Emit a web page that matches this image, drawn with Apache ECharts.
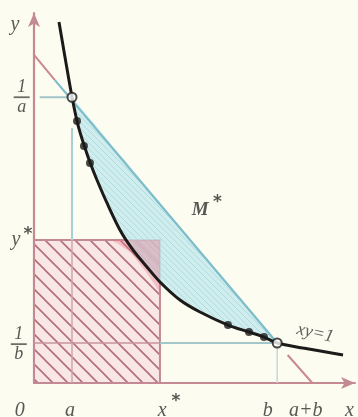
<!DOCTYPE html>
<html><head><meta charset="utf-8">
<script src="https://cdn.jsdelivr.net/npm/echarts@6/dist/echarts.min.js"></script>
<style>html,body{margin:0;padding:0;background:#fcfcf1}#c{width:358px;height:417px}</style>
</head><body><div id="c"></div>
<script>
// ---- values (data units) ----
const a = 0.40, invA = 2.50;        // point (a, 1/a)
const b = 2.56, invB = 0.35;        // point (b, 1/b)
const xStar = 1.326, yStar = 1.251; // rectangle corner (x*, y*)
const mLineStart = [0, 2.87];       // M* meets the y axis
const mLineEnd = [2.93, 0];         // M* meets the x axis at a+b
const mBlueFrom = [0.22, 2.65];     // red -> blue change on M*
const mRedFrom = [2.67, 0.245];     // blue -> red change on M*
const curveX = [0.263, 0.326, 0.400, 0.463, 0.537, 0.600, 0.663, 0.768, 0.905, 1.042, 1.189, 1.326, 1.537, 1.747, 2.042, 2.263, 2.421, 2.560, 2.832, 3.253];
const curveY = [3.158, 2.852, 2.502, 2.257, 2.056, 1.907, 1.776, 1.575, 1.339, 1.164, 1.015, 0.884, 0.726, 0.621, 0.507, 0.446, 0.402, 0.350, 0.306, 0.245];
const dotsX = [0.453, 0.526, 0.589, 2.042, 2.263, 2.421];
const dotsY = [2.292, 2.073, 1.925, 0.507, 0.446, 0.402];
const guideATop = 2.23;     // top of the vertical guide at a
const guideInvAFrom = 0.06; // start of the horizontal guide at 1/a
const patchX = [0.80, 1.326, 1.326, 1.20, 1.02, 0.88];
const patchY = [1.251, 1.251, 0.79, 0.95, 1.14, 1.22];
const labelTexts = ['y', '1/a', 'y', '1/b', '0', 'a', 'x', 'b', 'a+b', 'x', 'M'];
const labelX = [-0.20, -0.13, -0.19, -0.16, -0.15, 0.38, 1.35, 2.46, 2.86, 3.32, 1.75];
const labelY = [3.13, 2.50, 1.25, 0.34, -0.24, -0.24, -0.24, -0.24, -0.24, -0.24, 1.51];
const starX = [-0.065, 1.495, 1.93];
const starY = [1.30, -0.16, 1.58];
const curveName = 'xy=1';
const curveNamePos = [2.96, 0.435];

// ---- styling helpers ----
function hatch(size, bg, lineColor, lw) {
  const c = document.createElement('canvas');
  c.width = c.height = size;
  const g = c.getContext('2d');
  g.fillStyle = bg; g.fillRect(0, 0, size, size);
  g.strokeStyle = lineColor; g.lineWidth = lw; g.beginPath();
  g.moveTo(-2, -2); g.lineTo(size + 2, size + 2);
  g.moveTo(size - 3, -3); g.lineTo(size + 3, 3);
  g.moveTo(-3, size - 3); g.lineTo(3, size + 3);
  g.stroke();
  return c;
}
const pinkHatch = hatch(15, 'rgba(246,222,224,0.7)', '#b46e7b', 1.6);
const blueHatch = hatch(6, 'rgba(196,233,237,0.8)', 'rgba(165,214,221,0.7)', 1);

function polySeries(points, style, z) {
  return {
    type: 'custom', coordinateSystem: 'cartesian2d', z: z, silent: true, clip: false,
    data: points,
    renderItem: function (params, api) {
      if (params.dataIndex !== 0) return null;
      return { type: 'polygon', shape: { points: points.map(p => api.coord(p)) }, style: style };
    }
  };
}
function seg(points, color, width, z) {
  return { type: 'line', data: points, symbol: 'none', silent: true, z: z,
    lineStyle: { color: color, width: width }, clip: false };
}

const rectPts = [[0, 0], [xStar, 0], [xStar, yStar], [0, yStar]];
const curvePts = curveX.map((x, i) => [x, curveY[i]]);
const inner = curvePts.filter(p => p[0] > a && p[0] < b).reverse();
const bluePts = [[a, invA], [b, invB]].concat(inner);
const patchPts = patchX.map((x, i) => [x, patchY[i]]);

const font = 'Liberation Serif';
const ink = '#2f2d29';
const rich = {
  t: { fontFamily: font, fontStyle: 'italic', fontSize: 20, color: ink, align: 'center' },
  m: { fontFamily: font, fontStyle: 'italic', fontWeight: 'bold', fontSize: 19, color: ink, align: 'center' },
  n: { fontFamily: font, fontStyle: 'italic', fontSize: 18, color: ink, lineHeight: 15, align: 'center' },
  bar: { width: 16, height: 1.8, backgroundColor: '#4a4842', lineHeight: 5, align: 'center' }
};
function labelText(s) {
  if (s.indexOf('/') > 0) { const p = s.split('/'); return '{n|' + p[0] + '}\n{bar|}\n{n|' + p[1] + '}'; }
  if (s === 'M') return '{m|M}';
  return '{t|' + s + '}';
}
const labelData = labelTexts.map((s, i) => ({ value: [labelX[i], labelY[i]], label: { formatter: labelText(s) } }));
const starData = starX.map((x, i) => [x, starY[i]]);

const option = {
  backgroundColor: '#fcfcf1',
  animation: false,
  grid: { left: 34, right: 3, top: 13, bottom: 34 },
  xAxis: { type: 'value', min: 0, max: 3.379, splitLine: { show: false },
    axisTick: { show: false }, axisLabel: { show: false },
    axisLine: { show: true, onZero: false, symbol: ['none', 'arrow'], symbolSize: [9, 14], lineStyle: { color: '#c48a94', width: 2 } } },
  yAxis: { type: 'value', min: 0, max: 3.237, splitLine: { show: false },
    axisTick: { show: false }, axisLabel: { show: false },
    axisLine: { show: true, onZero: false, symbol: ['none', 'arrow'], symbolSize: [9, 14], lineStyle: { color: '#c48a94', width: 2.2 } } },
  series: [
    polySeries(rectPts, { fill: { image: pinkHatch, repeat: 'repeat' }, stroke: '#c48a94', lineWidth: 2 }, 2),
    polySeries(bluePts, { fill: { image: blueHatch, repeat: 'repeat' } }, 3),
    polySeries(patchPts, { fill: 'rgba(236,120,140,0.38)' }, 3),
    // guide lines
    seg([[guideInvAFrom, invA], [a, invA]], '#a3c6cb', 2, 4),
    seg([[a, guideATop], [a, yStar]], '#a8cdd2', 2, 4),
    seg([[a, yStar], [a, 0]], '#d0a6ad', 1.5, 4),
    seg([[0, invB], [xStar, invB]], '#c9939c', 1.6, 4),
    seg([[xStar, invB], [b, invB]], '#a3c6cb', 2, 4),
    seg([[b, invB], [b, 0]], '#c3d8da', 1.5, 4),
    // line M*
    seg([mLineStart, mBlueFrom], '#c98892', 2, 5),
    seg([mBlueFrom, [b, invB]], '#7dbdca', 2.2, 5),
    seg([mRedFrom, mLineEnd], '#c98892', 2, 5),
    // hyperbola
    { type: 'line', data: curvePts, smooth: 0.3, symbol: 'none', silent: true, z: 6,
      lineStyle: { color: '#1c1b19', width: 3 } },
    { type: 'scatter', data: dotsX.map((x, i) => [x, dotsY[i]]), symbolSize: 8, z: 7, silent: true,
      itemStyle: { color: '#1c1b19' } },
    { type: 'scatter', data: [[a, invA], [b, invB]], symbolSize: 9, z: 8, silent: true,
      itemStyle: { color: '#ffffff', borderColor: '#1c1b19', borderWidth: 2 } },
    // texts
    { type: 'scatter', data: labelData, symbolSize: 1, z: 9, silent: true, clip: false,
      itemStyle: { color: 'rgba(0,0,0,0)' },
      label: { show: true, position: 'inside', rich: rich } },
    { type: 'scatter', data: starData, symbolSize: 1, z: 9, silent: true, clip: false,
      itemStyle: { color: 'rgba(0,0,0,0)' },
      label: { show: true, position: 'inside', formatter: '*', fontFamily: 'DejaVu Sans', fontWeight: 'bold', fontSize: 17, color: ink } },
    { type: 'scatter', data: [curveNamePos], symbolSize: 1, z: 9, silent: true, clip: false,
      itemStyle: { color: 'rgba(0,0,0,0)' },
      label: { show: true, position: 'inside', formatter: curveName, rotate: -13, fontFamily: font, fontStyle: 'italic', fontSize: 18, color: '#3a3833' } }
  ]
};
const chart = echarts.init(document.getElementById('c'), null, { renderer: 'canvas' });
chart.setOption(option);
</script></body></html>
